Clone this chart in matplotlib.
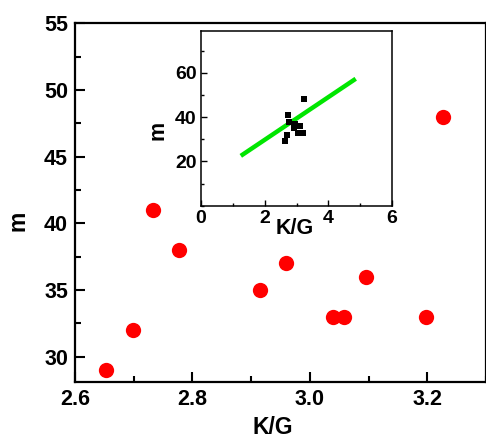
import numpy as np
import matplotlib
matplotlib.use("Agg")
import matplotlib.pyplot as plt
from matplotlib.ticker import MultipleLocator, FormatStrFormatter

plt.rcParams["font.family"] = ["Liberation Sans", "DejaVu Sans"]
plt.rcParams["font.weight"] = "bold"

# K/G ratio and m values
kg = [2.652, 2.699, 2.732, 2.777, 2.915, 2.960, 3.040, 3.059, 3.095, 3.198, 3.226]
m = [29, 32, 41, 38, 35, 37, 33, 33, 36, 33, 48]

# green fit line in the inset (end points)
fit_kg = [1.25, 4.86]
fit_m = [22.5, 57.3]

W, H = 486, 438
fig = plt.figure(figsize=(W / 100, H / 100), dpi=100)

ax = fig.add_axes([75 / W, 1 - 382 / H, 411 / W, (382 - 23.4) / H])
ax.plot(kg, m, "o", color="red", markersize=11, markeredgewidth=0)
ax.set_xlim(2.6, 3.3)
ax.set_ylim(28.1, 55)
ax.xaxis.set_major_locator(MultipleLocator(0.2))
ax.xaxis.set_minor_locator(MultipleLocator(0.1))
ax.xaxis.set_major_formatter(FormatStrFormatter("%.1f"))
ax.yaxis.set_major_locator(MultipleLocator(5))
ax.yaxis.set_minor_locator(MultipleLocator(2.5))
ax.tick_params(which="both", direction="in", width=1.5, labelsize=15.5, pad=5)
ax.tick_params(which="major", length=7)
ax.tick_params(which="minor", length=4)
for s in ax.spines.values():
    s.set_linewidth(1.6)
ax.set_xlabel("K/G", fontsize=16.5, fontweight="bold")
ax.set_ylabel("m", fontsize=16.5, fontweight="bold")
ax.xaxis.label.set_va("center")
ax.yaxis.label.set_va("center")
ax.xaxis.set_label_coords((273 - 75) / 411, (382 - 428) / 358.6)
ax.yaxis.set_label_coords((18 - 75) / 411, (382 - 221) / 358.6)

# inset
ins = fig.add_axes([201 / W, 1 - 205.7 / H, 191 / W, (205.7 - 30.7) / H])
ins.plot(fit_kg, fit_m, "-", color="#00e600", linewidth=3.2, solid_capstyle="butt")
ins.plot(kg, m, "s", color="black", markersize=5, markeredgewidth=0)
ins.set_xlim(0, 6)
ins.set_ylim(0, 79)
ins.xaxis.set_major_locator(MultipleLocator(2))
ins.xaxis.set_minor_locator(MultipleLocator(1))
ins.set_yticks([20, 40, 60])
ins.yaxis.set_minor_locator(MultipleLocator(10))
ins.tick_params(which="both", direction="in", width=1.0, labelsize=14, pad=3)
ins.tick_params(which="major", length=4)
ins.tick_params(which="minor", length=2.5)
for s in ins.spines.values():
    s.set_linewidth(1.1)
ins.set_xlabel("K/G", fontsize=15.5, fontweight="bold")
ins.set_ylabel("m", fontsize=15.5, fontweight="bold")
ins.xaxis.label.set_va("center")
ins.yaxis.label.set_va("center")
ins.xaxis.set_label_coords((295 - 201) / 191, (205.7 - 229) / 175)
ins.yaxis.set_label_coords((158 - 201) / 191, (205.7 - 130) / 175)

fig.savefig("out.png", dpi=100)
